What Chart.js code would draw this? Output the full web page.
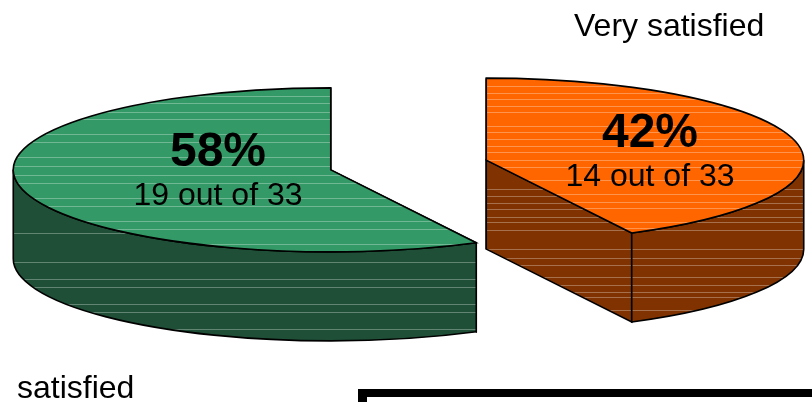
<!DOCTYPE html>
<html>
<head>
<meta charset="utf-8">
<title>Satisfaction</title>
<script src="https://cdn.jsdelivr.net/npm/chart.js@4"></script>
<style>
  html, body { margin: 0; padding: 0; background: #fff; }
  #wrap { position: relative; width: 812px; height: 402px; overflow: hidden; }
  #myChart { display: block; }
  #caja { position: absolute; left: 358px; top: 389px; width: 600px; height: 100px; border-top: 8px solid #000; border-left: 9px solid #000; }
</style>
</head>
<body>
<div id="wrap">
  <canvas id="myChart" width="812" height="402"></canvas>
  <div id="caja"></div>
</div>
<script>
const categorias = ["Very satisfied", "satisfied"];
const respuestas = [14, 19];
const porcentajes = ["42%", "58%"];
const textos_total = ["14 out of 33", "19 out of 33"];

const colores_arriba = ["#ff6600", "#339966"];
const colores_lado = ["#803300", "#1f4f37"];
// filas donde caen las lineas claras del relleno
const lineas_arriba = [
  [86, 93, 99, 106, 112, 126, 132, 139, 146, 152, 160, 167, 180, 194, 202, 208, 222, 228],
  [96, 103, 112, 119, 134, 142, 157, 166, 175, 183, 198, 206, 221, 229, 244]
];
const lineas_lado = [
  [189, 196, 203, 209, 217, 222, 230, 249, 258, 265, 277, 285, 292, 297, 310],
  [233, 262, 279, 287, 304, 312, 329]
];

const radio_x = 317.5;
const radio_y = 82;
const profundidad = 89;
const separacion = 80;

function lineas_claras(ctx, filas, alfa) {
  ctx.strokeStyle = `rgba(255,255,255,${alfa})`;
  ctx.lineWidth = 1;
  filas.forEach((y) => {
    ctx.beginPath();
    ctx.moveTo(0, y + 0.5);
    ctx.lineTo(812, y + 0.5);
    ctx.stroke();
  });
}

function pintar_cara(ctx, trazar, color, filas) {
  ctx.save();
  trazar();
  ctx.fillStyle = color;
  ctx.fill();
  ctx.clip();
  lineas_claras(ctx, filas, 0.3);
  ctx.restore();
  trazar();
  ctx.strokeStyle = "#000";
  ctx.lineWidth = 1.6;
  ctx.stroke();
}

const pastel_3d = {
  id: "pastel_3d",
  beforeDatasetsDraw(chart) {
    const ctx = chart.ctx;
    chart.getDatasetMeta(0).data.forEach((arco, i) => {
      const medio = (arco.startAngle + arco.endAngle) / 2;
      const sx = radio_x / arco.outerRadius;
      const sy = radio_y / arco.outerRadius;
      const cx = arco.x + Math.cos(medio) * separacion;
      const cy = arco.y + Math.sin(medio) * separacion * (radio_y / radio_x);
      const ini = arco.startAngle;
      const fin = arco.endAngle;

      // caras rectas del corte
      [ini, fin].forEach((angulo) => {
        const px = cx + Math.cos(angulo) * radio_x;
        const py = cy + Math.sin(angulo) * radio_y;
        pintar_cara(ctx, () => {
          ctx.beginPath();
          ctx.moveTo(cx, cy);
          ctx.lineTo(px, py);
          ctx.lineTo(px, py + profundidad);
          ctx.lineTo(cx, cy + profundidad);
          ctx.closePath();
        }, colores_lado[i], lineas_lado[i]);
      });

      // pared curva, solo la parte que mira hacia adelante
      const desde = Math.max(ini, 0);
      const hasta = Math.min(fin, Math.PI);
      if (hasta > desde) {
        pintar_cara(ctx, () => {
          ctx.beginPath();
          ctx.ellipse(cx, cy, radio_x, radio_y, 0, desde, hasta);
          ctx.ellipse(cx, cy + profundidad, radio_x, radio_y, 0, hasta, desde, true);
          ctx.closePath();
        }, colores_lado[i], lineas_lado[i]);
      }

      // cara de arriba, la dibuja el propio arco de Chart.js
      const trazar_arriba = () => {
        ctx.beginPath();
        ctx.moveTo(cx, cy);
        ctx.ellipse(cx, cy, radio_x, radio_y, 0, ini, fin);
        ctx.closePath();
      };
      ctx.save();
      ctx.translate(cx, cy);
      ctx.scale(sx, sy);
      ctx.translate(-arco.x, -arco.y);
      arco.draw(ctx);
      ctx.restore();
      ctx.save();
      trazar_arriba();
      ctx.clip();
      lineas_claras(ctx, lineas_arriba[i], 0.3);
      ctx.restore();
      trazar_arriba();
      ctx.strokeStyle = "#000";
      ctx.lineWidth = 1.6;
      ctx.stroke();
    });
    return false;
  },
  afterDraw(chart) {
    const ctx = chart.ctx;
    ctx.save();
    ctx.fillStyle = "#000";
    ctx.textBaseline = "alphabetic";

    ctx.textAlign = "center";
    ctx.font = "bold 48px 'Liberation Sans'";
    ctx.fillText(porcentajes[0], 650, 147);
    ctx.fillText(porcentajes[1], 218, 166);
    ctx.font = "32px 'Liberation Sans'";
    ctx.fillText(textos_total[0], 650, 186);
    ctx.fillText(textos_total[1], 218, 205);

    ctx.textAlign = "left";
    ctx.fillText(categorias[0], 574, 36);
    ctx.fillText(categorias[1], 17, 398);
    ctx.restore();
  }
};

new Chart(document.getElementById("myChart"), {
  type: "pie",
  data: {
    labels: categorias,
    datasets: [
      {
        data: respuestas,
        backgroundColor: colores_arriba,
        borderWidth: 0,
      },
    ],
  },
  options: {
    responsive: false,
    animation: false,
    layout: { padding: { left: 5, right: 0, top: 0, bottom: 72 } },
    plugins: {
      legend: { display: false },
      tooltip: { enabled: false },
    },
  },
  plugins: [pastel_3d],
});
</script>
</body>
</html>
